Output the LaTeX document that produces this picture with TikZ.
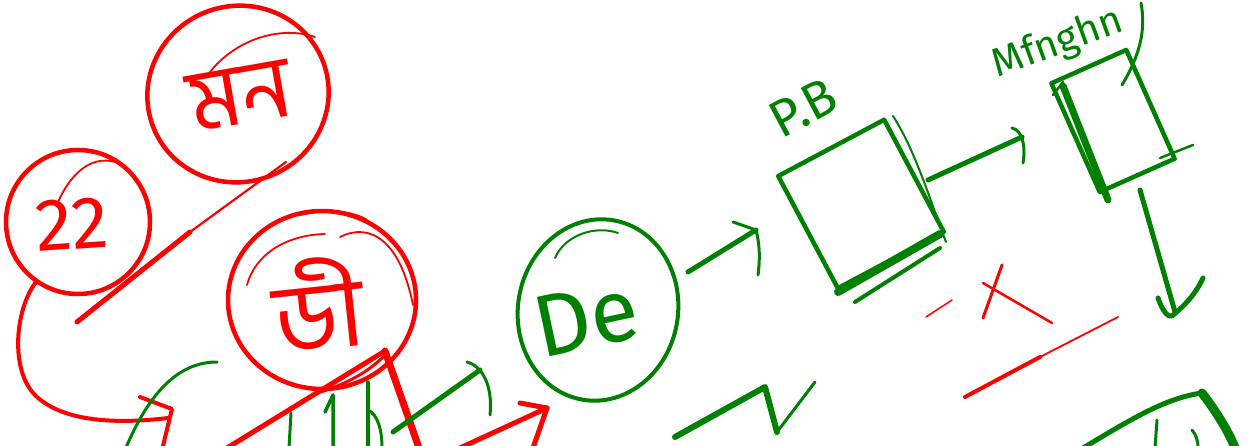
\documentclass[tikz,border=0pt]{standalone}
\usepackage{fontspec}
\setmainfont{Fira Sans}
\newfontfamily\bnfont[Script=Bengali]{Hind Siliguri}
\usetikzlibrary{shapes.geometric}
\definecolor{inkred}{HTML}{FF0000}
\definecolor{inkgreen}{HTML}{008000}
\tikzset{
  rink/.style={draw=inkred, line width=4pt, line cap=round, line join=round},
  gink/.style={draw=inkgreen, line width=4pt, line cap=round, line join=round},
  rthin/.style={rink, line width=1.8pt},
  gthin/.style={gink, line width=2pt},
  rthick/.style={rink, line width=7pt},
  gthick/.style={gink, line width=7pt},
  bubble/.style={ellipse, inner sep=0pt},
  box/.style={rectangle, inner sep=0pt},
  rtext/.style={text=inkred, inner sep=0pt},
  gtext/.style={text=inkgreen, inner sep=0pt}
}
\begin{document}
\begin{tikzpicture}[x=1pt,y=-1pt]
\clip (0,0) rectangle (1255,446);
\fill[white] (0,0) rectangle (1255,446);

% ---------- red bubbles ----------
\node (n22) [bubble, rink, line width=4.5pt, minimum width=144pt, minimum height=144pt] at (78,222) {};
\node (nmn) [bubble, rink, line width=4.5pt, minimum width=182pt, minimum height=176pt, rotate=20] at (238,94) {};
\node (ndi) [bubble, rink, line width=4.5pt, minimum width=188pt, minimum height=178pt] at (322,300) {};

\node (t22) [rtext, rotate=4] at (72,224) {\fontsize{74}{74}\selectfont 22};
\node (tmn) [rtext, rotate=10] at (240,96) {\bnfont\fontsize{88}{88}\selectfont মন};
\node (tdi) [rtext, rotate=6] at (318,304) {\bnfont\fontsize{98}{98}\selectfont ডী};

% extra hand strokes on red bubbles
\draw[rthin] (58,202) .. controls (70,175) and (90,155) .. (115,162);
\draw[rthin] (210,72) .. controls (235,40) and (280,25) .. (315,37);
\draw[rthin] (247,285) .. controls (255,255) and (285,235) .. (325,234);
\draw[rthin] (340,237) .. controls (370,222) and (400,240) .. (413,305);
\draw[rthin] (300,215) .. controls (330,208) and (355,212) .. (367,220);

% long red diagonal
\coordinate (d1) at (77,322);
\coordinate (d2) at (190,232);
\coordinate (d3) at (286,162);
\draw[rink, line width=5pt] (d1) -- (d2);
\draw[rink, line width=2.2pt] (d2) -- (d3);

% connector from 22 bubble downwards
\coordinate (c1end) at (168,418);
\draw[rink] (n22.235) .. controls (15,310) and (10,370) .. (35,395)
  .. controls (60,420) and (110,425) .. (c1end);
\draw[rink] (140,397) -- (172,409) -- (162,450);

% roof lines
\coordinate (roofL) at (227,448);
\coordinate (roofT) at (385,351);
\coordinate (roofR) at (419,448);
\draw[rink, line width=5pt] (roofL) -- (roofT);
\draw[rthick] (roofT) -- (roofR);
\draw[rink, line width=3pt] (317,393) .. controls (345,385) and (368,372) .. (383,357);

% red arrow to De
\coordinate (ra1) at (460,448);
\coordinate (ra2) at (547,408);
\draw[rink, line width=5pt] (ra1) -- (ra2);
\draw[rink, line width=5pt] (520,403) -- (ra2) -- (533,448);

% red marks right
\draw[rink, line width=3pt] (1002,265) -- (983,318);
\draw[rink, line width=2.5pt] (983,283) -- (1052,323);
\draw[rink, line width=1.5pt] (926,317) -- (952,300);
\coordinate (rl1) at (965,397);
\coordinate (rl2) at (1040,357);
\coordinate (rl3) at (1118,317);
\draw[rink, line width=4pt] (rl1) -- (rl2);
\draw[rink, line width=1.8pt] (rl2) -- (rl3);

% ---------- green ----------
\draw[gink, line width=3pt] (125,450) .. controls (150,390) and (180,362) .. (217,362);
\draw[gink, line width=3pt] (289,448) -- (291,413);
\draw[gink, line width=3.5pt] (333,448) -- (333,395) -- (325,412);
\draw[gink, line width=3.5pt] (368,448) -- (368,382);
\draw[gink, line width=3pt] (368,410) .. controls (378,415) and (382,430) .. (382,448);

\node (nDe) [bubble, gink, minimum width=160pt, minimum height=182pt, rotate=-10] at (598,310) {};
\node (tDe) [gtext, rotate=12] at (586,318) {\fontsize{88}{88}\selectfont De};
\draw[gthin] (555,258) .. controls (565,235) and (595,225) .. (618,233);

% arrow into De
\coordinate (ga1) at (393,432);
\coordinate (ga2) at (480,370);
\draw[gink, line width=5pt] (ga1) -- (ga2);
\draw[gink, line width=3pt] (467,362) .. controls (482,366) and (493,385) .. (490,415);

% P.B box
\node (nPB) [box, gink, line width=4.5pt, minimum width=120pt, minimum height=127pt, rotate=28] at (861,204) {};
\node (tPB) [gtext, rotate=28] at (803,108) {\fontsize{52}{52}\selectfont P.B};
\draw[gink, line width=8pt] (838,292) -- (940,234);
\draw[gink, line width=4pt] (855,302) -- (940,248);
\draw[gink, line width=2pt] (893,116) .. controls (915,150) and (930,200) .. (946,242);

% arrow De -> P.B
\coordinate (ab1) at (688,272);
\coordinate (ab2) at (756,230);
\draw[gink, line width=5pt] (ab1) -- (ab2);
\draw[gink, line width=3pt] (733,222) -- (ab2) .. controls (760,245) and (760,260) .. (758,275);

% Mfnghn box
\node (nMf) [box, gink, line width=4.5pt, minimum width=82pt, minimum height=119pt, rotate=24] at (1113,121) {};
\node (tMf) [gtext, rotate=20] at (1058,44) {\fontsize{40}{40}\selectfont Mfnghn};
\draw[gink, line width=7pt] (1063,86) -- (1108,200);
\draw[gink, line width=2.5pt] (1160,158) -- (1193,145);
\draw[gink, line width=2.5pt] (1053,95) -- (1063,82);
\draw[gink, line width=3pt] (1141,3) .. controls (1146,30) and (1140,55) .. (1122,85);

% arrow P.B -> Mfnghn
\coordinate (am1) at (928,180);
\coordinate (am2) at (1022,137);
\draw[gink, line width=5pt] (am1) -- (am2);
\draw[gink, line width=3pt] (1012,128) .. controls (1022,130) and (1026,145) .. (1023,163);

% arrow down from Mfnghn
\coordinate (ad1) at (1140,190);
\coordinate (ad2) at (1175,312);
\draw[gink, line width=5pt] (ad1) -- (ad2);
\draw[gink, line width=5pt] (1158,298) .. controls (1162,310) and (1168,318) .. (1172,316)
  .. controls (1185,305) and (1195,295) .. (1203,278);

% check mark
\coordinate (k1) at (675,437);
\coordinate (k2) at (765,387);
\coordinate (k3) at (777,432);
\coordinate (k4) at (815,382);
\draw[gink, line width=6pt] (k1) -- (k2) -- (k3);
\draw[gink, line width=3pt] (k3) -- (k4);

% bottom right box
\coordinate (b1) at (1083,448);
\coordinate (b2) at (1202,393);
\coordinate (b3) at (1235,448);
\draw[gink, line width=5pt] (b1) .. controls (1130,420) and (1165,398) .. (b2);
\draw[gink, line width=9pt] (b2) .. controls (1215,410) and (1228,430) .. (b3);
\draw[gink, line width=3pt] (1155,448) -- (1157,420);
\draw[gink, line width=3pt] (1192,430) .. controls (1196,435) and (1198,440) .. (1198,448);
\end{tikzpicture}
\end{document}
